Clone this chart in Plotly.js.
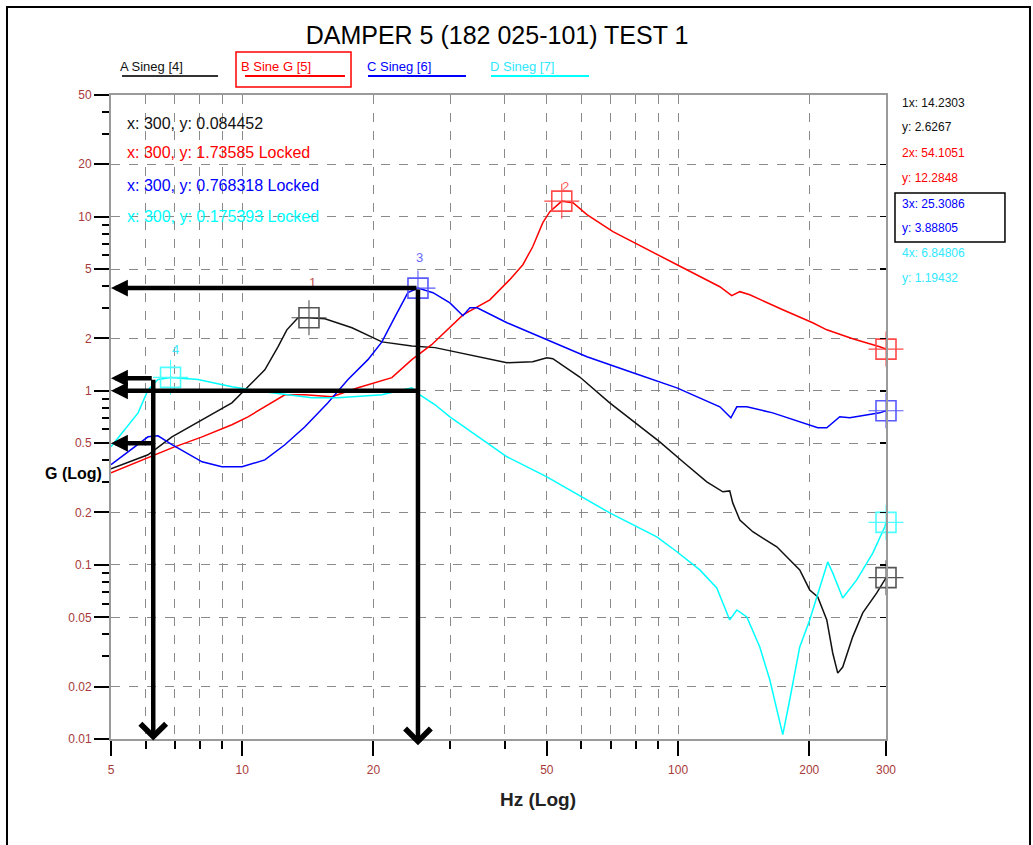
<!DOCTYPE html>
<html>
<head>
<meta charset="utf-8">
<script src="https://cdn.plot.ly/plotly-3.0.1.min.js"></script>
<style>html,body{margin:0;padding:0;background:#fff;}#chart{width:1033px;height:845px;}</style>
</head>
<body>
<div id="chart"></div>
<script>
// ---- Data (frequency in Hz, response in G) ----
const seriesNames = ['A Sineg [4]', 'B Sine G [5]', 'C Sineg [6]', 'D Sineg [7]'];
const seriesColors = ['#111111', '#ff0000', '#0000ff', '#00ffff'];
const markerColors = ['#555555', '#ff4a4a', '#5a5aff', '#4dffff'];

const freqA = [5.0, 6.08, 6.90, 8.09, 9.47, 10.31, 11.27, 12.08, 12.66, 13.43, 14.23, 15.48, 17.86, 20.92, 24.5, 27.7, 29.96, 37.0, 40.5, 46.4, 50.0, 51.6, 59.5, 69.7, 78.8, 90.8, 102.6, 116.4, 126.7, 131.4, 133.5, 138.6, 148.4, 168.5, 190.2, 200.5, 209.2, 219.4, 226.4, 232.5, 238.7, 251.6, 265.3, 285.7, 298, 300];
const gA = [0.356, 0.429, 0.544, 0.681, 0.853, 1.054, 1.32, 1.79, 2.24, 2.63, 2.627, 2.59, 2.30, 1.91, 1.81, 1.77, 1.70, 1.51, 1.45, 1.47, 1.55, 1.53, 1.20, 0.853, 0.67, 0.509, 0.391, 0.300, 0.263, 0.266, 0.227, 0.181, 0.155, 0.127, 0.0936, 0.0718, 0.0655, 0.0483, 0.0312, 0.0239, 0.0259, 0.0386, 0.0530, 0.0690, 0.0820, 0.0845];

const freqB = [5.0, 6.08, 6.90, 8.09, 9.47, 10.31, 11.70, 12.53, 13.93, 16.07, 18.43, 22.05, 24.5, 27.2, 32.1, 37.0, 41.1, 44.05, 46.4, 48.95, 50.8, 54.1, 57.4, 61.8, 70.9, 87.5, 102.6, 124.7, 132.8, 138.6, 146.1, 173.9, 203.7, 219.4, 251.6, 290.3, 300];
const gB = [0.338, 0.412, 0.470, 0.544, 0.638, 0.709, 0.853, 0.948, 0.948, 0.924, 1.04, 1.19, 1.51, 1.84, 2.73, 3.33, 4.35, 5.30, 6.72, 9.24, 10.68, 12.28, 12.04, 10.27, 8.20, 6.29, 5.09, 3.96, 3.52, 3.71, 3.56, 2.92, 2.46, 2.24, 1.99, 1.79, 1.736];

const freqC = [5.0, 6.08, 6.41, 6.90, 8.09, 8.98, 9.99, 11.27, 12.53, 13.93, 15.73, 17.49, 19.43, 20.92, 22.41, 24.0, 25.31, 27.4, 29.96, 32.1, 33.3, 34.6, 40.5, 50.0, 61.8, 78.8, 99.4, 124.7, 132.2, 136.4, 143.8, 164.9, 200.5, 209.2, 219.4, 235, 247.7, 290.3, 300];
const gC = [0.376, 0.544, 0.551, 0.490, 0.391, 0.366, 0.366, 0.401, 0.490, 0.621, 0.853, 1.16, 1.51, 1.91, 2.66, 3.66, 3.888, 3.66, 3.20, 2.70, 3.00, 3.00, 2.46, 1.96, 1.57, 1.27, 1.04, 0.809, 0.700, 0.809, 0.809, 0.747, 0.638, 0.613, 0.613, 0.709, 0.700, 0.747, 0.768];

const freqD = [5.0, 5.77, 6.08, 6.41, 6.848, 7.92, 9.47, 11.70, 14.45, 16.58, 20.92, 24.5, 25.57, 27.7, 29.96, 40.5, 50.0, 69.7, 89.4, 99.4, 112.2, 122.7, 131.4, 136.4, 143.8, 154.0, 162.4, 173.9, 180.4, 190.2, 200.5, 211.4, 220.5, 226.4, 238.7, 257, 279.7, 298, 300];
const gD = [0.477, 0.747, 1.01, 1.16, 1.194, 1.16, 1.054, 0.974, 0.912, 0.912, 0.948, 1.04, 0.948, 0.831, 0.709, 0.418, 0.320, 0.199, 0.145, 0.119, 0.0936, 0.0738, 0.0483, 0.0551, 0.0502, 0.0338, 0.0218, 0.0106, 0.0168, 0.0338, 0.0483, 0.0747, 0.104, 0.0900, 0.0646, 0.0820, 0.117, 0.165, 0.175];

// peak cursors 1..4 (A, B, C, D)
const peakF = [14.2303, 54.1051, 25.3086, 6.84806];
const peakG = [2.6267, 12.2848, 3.88805, 1.19432];
const peakLabelColors = ['#c05050', '#ff6060', '#6a6aff', '#40e8ff'];
// locked cursors at 300 Hz
const endF = 300;
const endG = [0.084452, 1.73585, 0.768318, 0.175393];
const endLocked = ['', ' Locked', ' Locked', ' Locked'];

// hand drawn arrows: horizontal ones point left to the G axis, vertical ones point down to the Hz axis
const arrowAxisF = 5;
const arrowHorizFromF = [25.3086, 25.3086, 6.25, 6.25];
const arrowHorizG = [3.88805, 1.0, 1.18, 0.5];
const arrowVertF = [25.3086, 6.25];
const arrowVertFromG = [3.88805, 1.18];
const arrowVertToG = [0.0092, 0.0098];

// axis ticks
const xTickVals = [5, 10, 20, 50, 100, 200, 300];
const xMinorVals = [6, 7, 8, 9, 30, 40, 60, 70, 80, 90];
const yTickVals = [0.01, 0.02, 0.05, 0.1, 0.2, 0.5, 1, 2, 5, 10, 20, 50];
const yTickText = ['0.01', '0.02', '0.05', '0.1', '0.2', '0.5', '1', '2', '5', '10', '20', '50'];
const yMinorVals = [0.03, 0.04, 0.06, 0.07, 0.08, 0.09, 0.3, 0.4, 0.6, 0.7, 0.8, 0.9, 3, 4, 6, 7, 8, 9, 30, 40];

// ---- Build figure ----
const L = Math.log10;
const font = 'Liberation Sans, Arial, sans-serif';
const series = [[freqA, gA], [freqB, gB], [freqC, gC], [freqD, gD]];

const traces = series.map((s, i) => ({
  x: s[0], y: s[1], type: 'scatter', mode: 'lines', name: seriesNames[i],
  line: {color: seriesColors[i], width: 1.5}, showlegend: false, hoverinfo: 'x+y'
}));

// cursor markers (square with cross-hair)
[0, 1, 2, 3].forEach(i => {
  const xs = [peakF[i], endF], ys = [peakG[i], endG[i]];
  traces.push({x: xs, y: ys, type: 'scatter', mode: 'markers', showlegend: false, hoverinfo: 'skip', cliponaxis: false,
    marker: {symbol: 'square-open', size: 20, color: markerColors[i], line: {width: 1.6, color: markerColors[i]}}});
  traces.push({x: xs, y: ys, type: 'scatter', mode: 'markers', showlegend: false, hoverinfo: 'skip', cliponaxis: false,
    marker: {symbol: 'cross-thin-open', size: 25, color: markerColors[i], line: {width: 1.1, color: markerColors[i]}}});
});
// helper trace for the right-hand axis
traces.push({x: [endF], y: [1], yaxis: 'y2', type: 'scatter', mode: 'none', showlegend: false, hoverinfo: 'skip'});

const annotations = [];
// cursor numbers (drawn first so the arrows sit on top)
const labelPos = [[1.1623, 0.6207], [1.7426, 1.1724], [1.4077, 0.7644], [0.8458, 0.2356]];
labelPos.forEach((p, i) => {
  annotations.push({xref: 'x', yref: 'y', x: p[0], y: p[1], text: String(i + 1), showarrow: false,
    font: {family: font, size: 13, color: peakLabelColors[i]}});
});
// info texts (top left)
const infoY = [0.9565, 0.910, 0.860, 0.8106];
endG.forEach((g, i) => {
  annotations.push({xref: 'paper', yref: 'paper', x: 0.018, y: infoY[i], xanchor: 'left', yanchor: 'middle',
    text: 'x: ' + endF + ', y: ' + g + endLocked[i], showarrow: false,
    font: {family: font, size: 16, color: seriesColors[i]}});
});
// cursor readouts (right)
const readY = [[0.9876, 0.9503], [0.910, 0.8711], [0.8307, 0.7935], [0.7547, 0.7158]];
const textColors = ['#111111', '#ff0000', '#0000ff', '#30e8ff'];
peakF.forEach((f, i) => {
  annotations.push({xref: 'paper', yref: 'paper', x: 1.018, y: readY[i][0], xanchor: 'left', yanchor: 'middle',
    text: (i + 1) + 'x: ' + f, showarrow: false, font: {family: font, size: 12, color: textColors[i]}});
  annotations.push({xref: 'paper', yref: 'paper', x: 1.018, y: readY[i][1], xanchor: 'left', yanchor: 'middle',
    text: 'y: ' + peakG[i], showarrow: false, font: {family: font, size: 12, color: textColors[i]}});
});
// legend
const legX = [0.009, 0.165, 0.3277, 0.4865];
seriesNames.forEach((n, i) => {
  annotations.push({xref: 'paper', yref: 'paper', x: legX[i], y: 1.0435, xanchor: 'left', yanchor: 'middle',
    text: n, showarrow: false, font: {family: font, size: 13, color: textColors[i]}});
});
// axis titles
annotations.push({xref: 'paper', yref: 'paper', x: 0.5516, y: -0.1134, text: '<b>Hz (Log)</b>', showarrow: false,
  font: {family: font, size: 19, color: '#222'}});
annotations.push({xref: 'paper', yref: 'paper', x: -0.0877, y: 0.4115, text: '<b>G (Log)</b>', showarrow: false,
  font: {family: font, size: 16, color: '#000'}});
// arrows
arrowHorizG.forEach((g, i) => {
  annotations.push({xref: 'x', yref: 'y', axref: 'x', ayref: 'y', x: L(arrowAxisF), y: L(g), ax: L(arrowHorizFromF[i]), ay: L(g),
    text: '', showarrow: true, arrowhead: 2, arrowsize: 0.75, arrowwidth: 4.5, arrowcolor: '#000', standoff: 0});
});
arrowVertF.forEach((f, i) => {
  annotations.push({xref: 'x', yref: 'y', axref: 'x', ayref: 'y', x: L(f), y: L(arrowVertToG[i]), ax: L(f), ay: L(arrowVertFromG[i]),
    text: '', showarrow: true, arrowhead: 4, arrowsize: 1.1, arrowwidth: 4.5, arrowcolor: '#000', standoff: 0});
});

const shapes = [
  // outer border
  {type: 'rect', xref: 'paper', yref: 'paper', x0: -0.1342, x1: 1.1858, y0: -0.1724, y1: 1.1366, line: {color: '#000', width: 2}},
  // readout box for cursor 3
  {type: 'rect', xref: 'paper', yref: 'paper', x0: 1.0116, x1: 1.1535, y0: 0.7717, y1: 0.8478, line: {color: '#000', width: 1.5}},
  // legend active box
  {type: 'rect', xref: 'paper', yref: 'paper', x0: 0.1613, x1: 0.3097, y0: 1.0124, y1: 1.0668, line: {color: '#ff0000', width: 1.5}}
];
const legLine = [[0.0142, 0.1381], [0.1729, 0.3019], [0.3316, 0.4581], [0.4903, 0.6168]];
legLine.forEach((l, i) => {
  shapes.push({type: 'line', xref: 'paper', yref: 'paper', x0: l[0], x1: l[1], y0: 1.0295, y1: 1.0295,
    line: {color: i === 0 ? '#333' : seriesColors[i], width: 2}});
});

const tickFont = {family: font, size: 12, color: '#a83a3a'};
const layout = {
  width: 1033, height: 845,
  margin: {l: 111, r: 147, t: 95, b: 106},
  paper_bgcolor: '#fff', plot_bgcolor: '#fff',
  showlegend: false,
  title: {text: 'DAMPER 5 (182 025-101) TEST 1', font: {family: font, size: 25, color: '#000'},
    xref: 'paper', x: 0.4981, xanchor: 'center', yref: 'container', y: 0.9586, yanchor: 'middle'},
  xaxis: {
    type: 'log', range: [L(5), L(300)], tickmode: 'array', tickvals: xTickVals, ticktext: xTickVals.map(String),
    ticks: 'outside', ticklen: 15, tickwidth: 2, tickcolor: '#000', ticklabelstandoff: 4,
    showgrid: true, gridcolor: '#8a8a8a', griddash: 'dash', gridwidth: 1,
    minor: {tickmode: 'array', tickvals: xMinorVals, ticks: 'outside', ticklen: 8, tickwidth: 2, tickcolor: '#000',
      showgrid: true, gridcolor: '#8a8a8a', griddash: 'dash', gridwidth: 1},
    showline: true, linecolor: '#9a9a9a', linewidth: 2, mirror: true, zeroline: false,
    tickfont: tickFont, fixedrange: true
  },
  yaxis: {
    type: 'log', range: [-2, L(50)], tickmode: 'array', tickvals: yTickVals, ticktext: yTickText,
    ticks: 'outside', ticklen: 15, tickwidth: 2, tickcolor: '#000',
    showgrid: true, gridcolor: '#8a8a8a', griddash: 'dash', gridwidth: 1,
    minor: {tickmode: 'array', tickvals: yMinorVals, ticks: 'outside', ticklen: 7, tickwidth: 2, tickcolor: '#000', showgrid: false},
    showline: true, linecolor: '#9a9a9a', linewidth: 2, zeroline: false,
    tickfont: tickFont, fixedrange: true
  },
  yaxis2: {
    type: 'log', range: [-2, L(50)], overlaying: 'y', side: 'right', tickmode: 'array', tickvals: yTickVals,
    ticks: 'inside', ticklen: 6, tickwidth: 1.5, tickcolor: '#000', showticklabels: false,
    showgrid: false, showline: true, linecolor: '#9a9a9a', linewidth: 2, zeroline: false, fixedrange: true
  },
  annotations: annotations,
  shapes: shapes
};

Plotly.newPlot('chart', traces, layout, {displayModeBar: false, staticPlot: true});
</script>
</body>
</html>
